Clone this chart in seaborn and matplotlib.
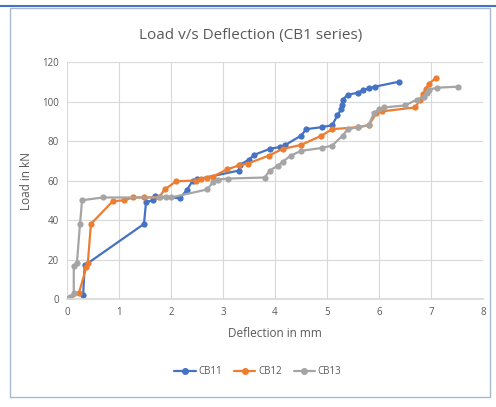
import pandas as pd
import matplotlib
matplotlib.use("Agg")
import matplotlib.pyplot as plt
import seaborn as sns
from matplotlib.patches import Rectangle

# values (deflection in mm, load in kN)
cb11_defl = [0.31, 0.34, 1.48, 1.52, 1.65, 1.70, 2.17, 2.30, 2.42, 2.50, 3.30, 3.33, 3.50, 3.60,
             3.90, 4.10, 4.20, 4.50, 4.60, 4.90, 5.10, 5.20, 5.27, 5.29, 5.30, 5.40, 5.60, 5.70,
             5.80, 5.92, 6.38]
cb11_load = [2, 17, 38, 49, 50, 52, 51, 55, 60, 60.6, 65, 68, 70.6, 73,
             76, 77, 78, 82.7, 86, 87, 88, 93, 96, 98, 101, 103.4, 104.5, 106,
             106.6, 107.5, 110]

cb12_defl = [0.05, 0.23, 0.37, 0.40, 0.46, 0.88, 1.10, 1.27, 1.48, 1.77, 1.88, 2.10, 2.48, 2.58,
             2.69, 2.80, 3.08, 3.30, 3.48, 3.88, 4.15, 4.50, 4.88, 5.10, 5.60, 5.80, 5.95, 6.05,
             6.70, 6.79, 6.85, 6.90, 6.96, 7.10]
cb12_load = [0, 3, 16, 18, 38, 49.5, 50, 51.4, 51.4, 51.5, 55.5, 59.6, 60, 61,
             61.5, 62, 65.6, 67.6, 68.6, 72.6, 76, 78, 82.5, 86, 87, 88, 94, 95,
             97, 101, 104, 106.4, 109, 112]

cb13_defl = [0.0, 0.06, 0.13, 0.13, 0.19, 0.25, 0.29, 0.69, 1.79, 1.90, 2.00, 2.70, 2.80, 2.90,
             3.10, 3.80, 3.90, 4.05, 4.15, 4.30, 4.50, 4.90, 5.10, 5.30, 5.40, 5.60, 5.80, 5.90,
             6.00, 6.10, 6.50, 6.73, 6.87, 6.92, 6.96, 7.12, 7.52]
cb13_load = [0, 1, 3, 16.5, 18, 38, 50, 51.4, 51.4, 51.4, 51.4, 55.5, 59, 60.5,
             61, 61.5, 65, 67.5, 69.5, 72.6, 75, 76.5, 77.7, 82.7, 86, 87, 88, 94,
             96, 97, 98, 101, 102.5, 104.5, 106, 107, 107.5]

series_names = ["CB11", "CB12", "CB13"]
colors = ["#4472C4", "#ED7D31", "#A5A5A5"]

frames = []
for name, xs, ys in zip(series_names, [cb11_defl, cb12_defl, cb13_defl],
                        [cb11_load, cb12_load, cb13_load]):
    frames.append(pd.DataFrame({"Deflection": xs, "Load": ys, "Series": name}))
df = pd.concat(frames, ignore_index=True)

sns.set_theme(style="white")
plt.rcParams["font.family"] = ["Open Sans", "DejaVu Sans"]
text_col = "#595959"

fig = plt.figure(figsize=(4.96, 4.07), dpi=100)
ax = fig.add_axes([67 / 496, 1 - 299 / 407, (483 - 67) / 496, (299 - 62) / 407])

sns.lineplot(data=df, x="Deflection", y="Load", hue="Series", palette=colors,
             sort=False, estimator=None, marker="o", markersize=4.5,
             markeredgewidth=0, linewidth=1.6, ax=ax, legend=False)

ax.set_xlim(0, 8)
ax.set_ylim(0, 120)
ax.set_xticks(range(0, 9))
ax.set_yticks(range(0, 121, 20))
ax.grid(True, color="#D9D9D9", linewidth=0.8)
ax.set_axisbelow(True)
for s in ["top", "right", "left"]:
    ax.spines[s].set_visible(False)
ax.spines["bottom"].set_color("#D9D9D9")
ax.tick_params(axis="both", labelsize=7, colors=text_col, length=0, pad=6)

ax.set_xlabel("Deflection in mm", fontsize=8.5, color=text_col, labelpad=6)
ax.set_ylabel("Load in kN", fontsize=8.5, color=text_col, labelpad=6)
fig.text(0.505, 1 - 36 / 407, "Load v/s Deflection (CB1 series)", ha="center", va="center",
         fontsize=11, color=text_col)

handles = [plt.Line2D([], [], color=c, marker="o", markersize=4, linewidth=1.6) for c in colors]
fig.legend(handles, series_names, loc="center", bbox_to_anchor=(0.52, 1 - 372 / 407),
           ncol=3, frameon=False, fontsize=7, handlelength=2.2, columnspacing=1.2,
           handletextpad=0.3, labelcolor=text_col)

# chart border like the spreadsheet frame
fig.patches.append(Rectangle((10 / 496, 1 - 397 / 407), 480 / 496, 389 / 407,
                             transform=fig.transFigure, fill=False,
                             edgecolor="#A9B8CC", linewidth=1))
fig.patches.append(Rectangle((0, 1 - 6 / 407), 1, 0, transform=fig.transFigure, fill=False,
                             edgecolor="#4472C4", linewidth=1.5))

fig.savefig("out.png", dpi=100)
